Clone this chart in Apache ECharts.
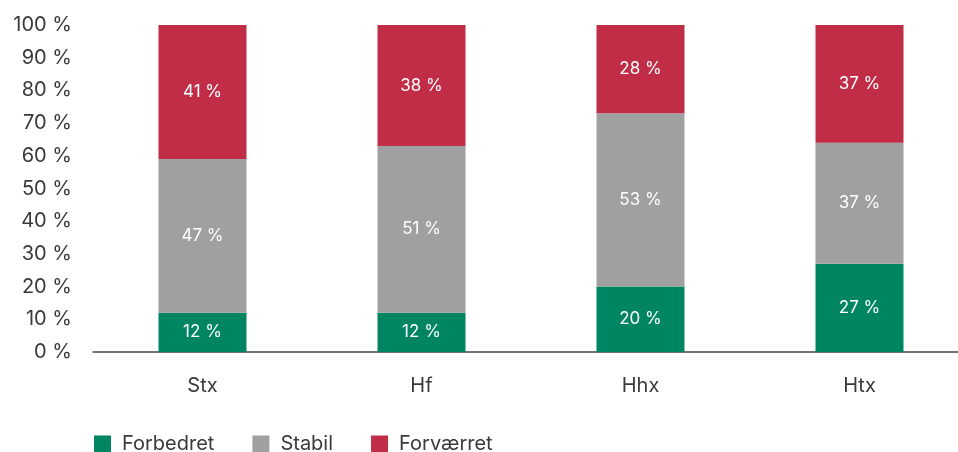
<!DOCTYPE html>
<html>
<head>
<meta charset="utf-8">
<script src="https://cdn.jsdelivr.net/npm/echarts@6/dist/echarts.min.js"></script>
<style>
  html, body { margin: 0; padding: 0; background: #fff; overflow: hidden; }
  #chart { width: 969px; height: 452px; }
</style>
</head>
<body>
<div id="chart"></div>
<script>
const categories = ['Stx', 'Hf', 'Hhx', 'Htx']
const forbedret = [12, 12, 20, 27]
const stabil = [47, 51, 53, 37]
const forvaerret = [41, 38, 28, 37]
const seriesNames = ['Forbedret', 'Stabil', 'Forværret']

const FONT = 'Inter, Roboto, sans-serif'
const chart = echarts.init(document.getElementById('chart'))

function barSeries(name, data, color) {
  return {
    name: name,
    type: 'bar',
    stack: 'total',
    data: data,
    barWidth: 88,
    itemStyle: { color: color },
    label: {
      show: true,
      position: 'inside',
      formatter: '{c} %',
      color: '#fff',
      fontFamily: FONT,
      fontSize: 17
    }
  }
}

chart.setOption({
  animation: false,
  textStyle: { fontFamily: FONT },
  legend: {
    data: seriesNames,
    left: 89,
    top: 429,
    itemWidth: 17,
    itemHeight: 17,
    itemGap: 38,
    icon: 'rect',
    textStyle: { color: '#3a3a3a', fontSize: 20, fontFamily: FONT, padding: [0, 0, 0, 6] }
  },
  grid: {
    left: 93,
    top: 25,
    right: 0,
    height: 327,
    containLabel: false
  },
  xAxis: {
    type: 'category',
    data: categories,
    axisLine: { lineStyle: { color: '#444', width: 1.5 } },
    axisTick: { show: false },
    axisLabel: { color: '#3a3a3a', fontSize: 20, margin: 24 }
  },
  yAxis: {
    type: 'value',
    min: 0,
    max: 100,
    interval: 10,
    axisLine: { show: false },
    axisTick: { show: false },
    splitLine: { show: false },
    axisLabel: { formatter: '{value} %', color: '#3a3a3a', fontSize: 20, margin: 21 }
  },
  series: [
    barSeries(seriesNames[0], forbedret, '#008563'),
    barSeries(seriesNames[1], stabil, '#a0a0a0'),
    barSeries(seriesNames[2], forvaerret, '#c12d46')
  ]
})
</script>
</body>
</html>
